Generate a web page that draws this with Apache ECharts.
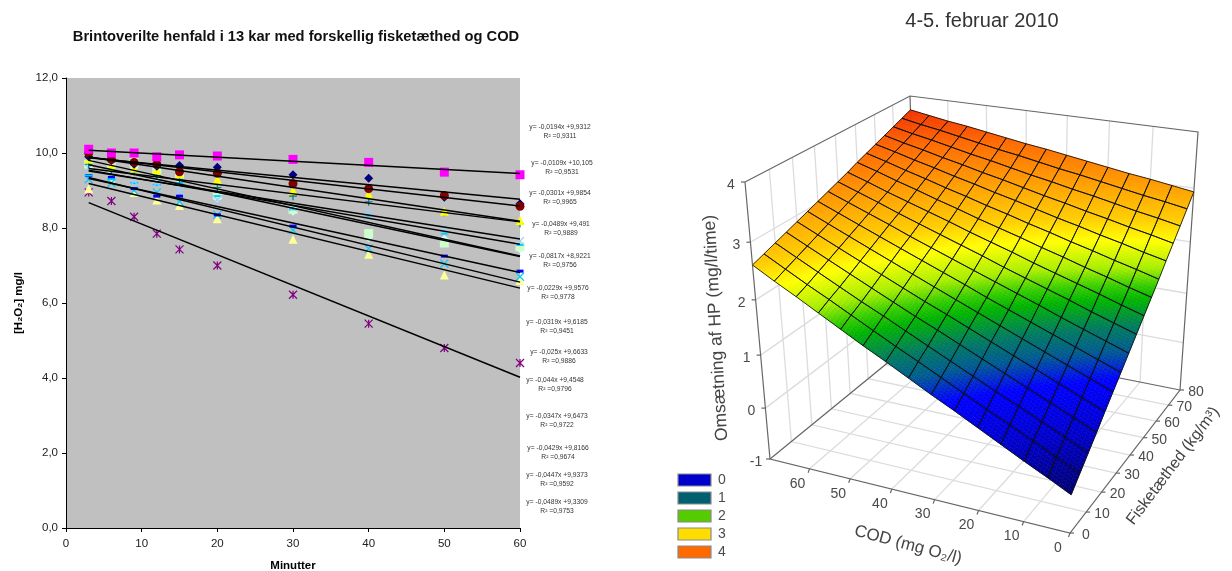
<!DOCTYPE html>
<html><head><meta charset="utf-8">
<style>html,body{margin:0;padding:0;background:#fff}#c{width:1232px;height:571px}</style>
<script src="https://cdn.jsdelivr.net/npm/echarts@6/dist/echarts.min.js"></script>
</head><body><div id="c"></div>
<script>
// ---------- left chart data ----------
const minutes = [3,6,9,12,15,20,30,40,50,60];
const karMagenta   = [10.1,10.0,10.0,9.9,9.95,9.92,9.83,9.75,9.49,9.42];
const karNavy      = [9.9,9.8,9.7,9.65,9.67,9.62,9.42,9.33,8.82,8.65];
const karMaroon    = [10.0,9.83,9.75,9.7,9.5,9.46,9.18,9.05,8.87,8.58];
const karYellow    = [9.85,9.65,9.6,9.55,9.45,9.3,9.0,8.9,8.45,8.2];
const karTeal      = [9.7,9.55,9.5,9.4,9.3,9.08,8.85,8.7,8.42,8.12];
const karLightBlue = [9.6,9.5,9.25,9.2,9.0,8.75,8.55,8.4,7.95,7.65];
const karCyanDash  = [9.4,9.3,9.2,9.15,9.2,8.85,8.5,8.33,7.85,7.55];
const karLightGreen= [9.7,9.6,9.75,9.55,9.4,8.88,8.5,7.85,7.6,7.5];
const karLightCyan = [9.75,9.55,9.6,9.35,9.2,8.8,8.45,7.75,7.7,7.45];
const karBlueDash  = [9.4,9.35,9.05,8.85,8.85,8.35,8.05,7.8,7.25,6.85];
const karCyanX     = [9.3,9.2,9.0,8.95,8.7,8.35,7.95,7.45,7.05,6.7];
const karPale      = [9.05,9.3,8.95,8.75,8.6,8.25,7.7,7.3,6.75,6.6];
const karPurple    = [8.95,8.72,8.3,7.85,7.43,7.0,6.22,5.45,4.8,4.4];
// trend lines as printed on the chart
const slopes     = [-0.0194,-0.0109,-0.0301,-0.0489,-0.0817,-0.0229,-0.0319,-0.025,-0.044,-0.0347,-0.0429,-0.0447,-0.0489];
const intercepts = [9.9312,10.105,9.9854,9.491,8.9221,9.9576,9.6185,9.6633,9.4548,9.6473,9.8166,9.9373,9.3309];
const rSquared   = ['0,9311','0,9531','0,9965','0,9889','0,9756','0,9778','0,9451','0,9886','0,9796','0,9722','0,9674','0,9592','0,9753'];
// ---------- right chart data ----------
const codTicks  = [0,10,20,30,40,50,60];
const fishTicks = [0,10,20,30,40,50,60,70,80];
const zTicks    = [-1,0,1,2,3,4];
const legendLevels = [0,1,2,3,4];
const surfaceCod  = [0,5,10,15,20,25,30,35,40,45,50,55,60,65,70];
const surfaceFish = [0,5,10,15,20,25,30,35,40,45,50,55,60,65,70,75,80];
const surfaceRate = [
[-0.29,-0.08,0.12,0.33,0.54,0.75,0.95,1.16,1.37,1.57,1.78,1.99,2.20,2.40,2.61],
[-0.09,0.11,0.31,0.51,0.70,0.90,1.10,1.30,1.49,1.69,1.89,2.09,2.28,2.48,2.68],
[0.11,0.30,0.49,0.68,0.86,1.05,1.24,1.43,1.62,1.81,1.99,2.18,2.37,2.56,2.75],
[0.31,0.49,0.67,0.85,1.03,1.21,1.39,1.57,1.74,1.92,2.10,2.28,2.46,2.64,2.82],
[0.52,0.69,0.86,1.03,1.20,1.37,1.54,1.71,1.87,2.04,2.21,2.38,2.55,2.72,2.89],
[0.72,0.88,1.04,1.20,1.36,1.52,1.68,1.84,2.00,2.16,2.32,2.48,2.64,2.80,2.96],
[0.92,1.07,1.22,1.37,1.52,1.67,1.82,1.98,2.13,2.28,2.43,2.58,2.73,2.88,3.03],
[1.12,1.26,1.40,1.54,1.69,1.83,1.97,2.11,2.25,2.39,2.53,2.68,2.82,2.96,3.10],
[1.32,1.45,1.58,1.72,1.85,1.98,2.11,2.25,2.38,2.51,2.64,2.77,2.91,3.04,3.17],
[1.52,1.64,1.77,1.89,2.01,2.13,2.26,2.38,2.50,2.63,2.75,2.87,2.99,3.12,3.24],
[1.72,1.83,1.95,2.06,2.18,2.29,2.41,2.52,2.63,2.75,2.86,2.98,3.09,3.21,3.32],
[1.92,2.03,2.13,2.24,2.34,2.45,2.55,2.66,2.76,2.87,2.97,3.08,3.18,3.29,3.39],
[2.13,2.22,2.32,2.41,2.51,2.60,2.70,2.80,2.89,2.99,3.08,3.18,3.27,3.37,3.46],
[2.33,2.42,2.50,2.59,2.67,2.76,2.84,2.93,3.02,3.10,3.19,3.27,3.36,3.44,3.53],
[2.53,2.61,2.68,2.76,2.84,2.91,2.99,3.06,3.14,3.22,3.29,3.37,3.45,3.52,3.60],
[2.73,2.80,2.86,2.93,3.00,3.07,3.13,3.20,3.27,3.33,3.40,3.47,3.54,3.60,3.67],
[2.93,2.99,3.05,3.10,3.16,3.22,3.28,3.34,3.39,3.45,3.51,3.57,3.62,3.68,3.74]
];

// ---------- layout and styles (not data) ----------
const FONT = '"Liberation Sans", Arial, sans-serif';
const eqCenterX = [560,562,560,561,560,558,557,559,555,557,558,557,557];
const eqY = [127,163,193,224,256,288,322,352,380,416,448,475,502];
const dec = v=>String(v).replace('.',',');

const plus='path://M0 5H10M5 0V10', cross='path://M0 0L10 10M10 0L0 10', star='path://M0 0L10 10M10 0L0 10M5 0V10';
const markerSeries = [
 [karPurple,star,8,'#800080',true],[karPale,'triangle',9,'#FFFF99'],[karCyanX,cross,8,'#00CCFF',true],
 [karBlueDash,'rect',[7,3],'#0000FF'],[karLightCyan,'diamond',9,'#CCFFFF'],[karLightGreen,'rect',9,'#CCFFCC'],
 [karCyanDash,'rect',[8,2],'#00CCFF'],[karLightBlue,cross,8,'#99CCFF',true],[karTeal,plus,8,'#008080',true],
 [karYellow,'triangle',9,'#FFFF00'],[karNavy,'diamond',9,'#000080'],[karMaroon,'circle',9,'#800000'],[karMagenta,'rect',9,'#FF00FF']
].map(([vals,symbol,size,color,stroked],i)=>({
  type:'scatter',xAxisIndex:0,yAxisIndex:0,z:2+i*0.01,symbol,symbolSize:size,silent:true,
  itemStyle: stroked?{color:'rgba(0,0,0,0)',borderColor:color,borderWidth:1.2,opacity:1}:{color,opacity:1},
  data:vals.map((v,j)=>[minutes[j],v])
}));
const trendSeries = slopes.map((m,i)=>({
  type:'line',xAxisIndex:0,yAxisIndex:0,z:5,symbol:'none',silent:true,
  lineStyle:{color:'#000',width:1.5},
  data:[3,60].map(x=>[x,m*x+intercepts[i]])
}));
const eqGraphics = [];
slopes.forEach((m,i)=>{
  eqGraphics.push({type:'text',x:eqCenterX[i],y:eqY[i],silent:true,style:{text:'y= '+dec(m)+'x +'+dec(intercepts[i]),font:'6.7px '+FONT,fill:'#333',textAlign:'center',verticalAlign:'middle'}});
  eqGraphics.push({type:'text',x:eqCenterX[i],y:eqY[i]+9,silent:true,style:{text:'R² ='+rSquared[i],font:'6.7px '+FONT,fill:'#333',textAlign:'center',verticalAlign:'middle'}});
});

// ---------- 3D projection of the right panel ----------
function quadMap(q){
  const [[x0,y0],[x1,y1],[x2,y2],[x3,y3]]=q;
  const sx=x0-x1+x2-x3,sy=y0-y1+y2-y3,dx1=x1-x2,dx2=x3-x2,dy1=y1-y2,dy2=y3-y2;
  const den=dx1*dy2-dx2*dy1,g=(sx*dy2-dx2*sy)/den,h=(dx1*sy-sx*dy1)/den;
  const a=x1-x0+g*x1,b=x3-x0+h*x3,c=x0,d=y1-y0+g*y1,e=y3-y0+h*y3,f=y0;
  return (u,v)=>{const w=g*u+h*v+1;return [(a*u+b*v+c)/w,(d*u+e*v+f)/w];};
}
const COD_MAX=70,FISH_MAX=80,Z_MIN=-1,Z_MAX=4,PERSP=0.9;
const floorMap=quadMap([[1070,533],[770,459],[918,338],[1180,390]]);
const roofMap =quadMap([[1079,238],[745,182],[910,96],[1198,132]]);
function proj(cod,fish,rate){
  const u=cod/COD_MAX,v=fish/FISH_MAX,t=(rate-Z_MIN)/(Z_MAX-Z_MIN);
  const s=PERSP*t/((1-t)+PERSP*t);
  const a=floorMap(u,v),b=roofMap(u,v);
  return [a[0]+(b[0]-a[0])*s,a[1]+(b[1]-a[1])*s];
}
const stops=[[-0.3,'#00006a'],[0.3,'#0000c8'],[0.85,'#0000ff'],[1.15,'#005a90'],[1.4,'#007a60'],[1.7,'#00b400'],[1.85,'#33cc00'],[2.05,'#a8ee00'],[2.35,'#ffff00'],[2.6,'#ffcc00'],[2.9,'#ffa800'],[3.4,'#ff6a00'],[3.8,'#f02800']];
const hex=h=>[1,3,5].map(i=>parseInt(h.substr(i,2),16));
function rateColor(z){
  if(z<=stops[0][0])return stops[0][1];
  for(let i=1;i<stops.length;i++){ if(z<=stops[i][0]){
    const t=(z-stops[i-1][0])/(stops[i][0]-stops[i-1][0]),a=hex(stops[i-1][1]),b=hex(stops[i][1]);
    return 'rgb('+a.map((x,k)=>Math.round(x+(b[k]-x)*t)).join(',')+')';}}
  return stops[stops.length-1][1];
}
const RX={xAxisIndex:1,yAxisIndex:1};
function pathSeries(data,z,color,width,fn){
  return {type:'custom',...RX,z,silent:true,data:data.map(v=>[v,0]),
    renderItem:(p,api)=>({type:'polyline',shape:{points:fn(api.value(0)).map(q=>api.coord(q))},
      style:{fill:'none',stroke:color,lineWidth:width}})};
}
const GRID='#dcdcdc',FRAME='#666',TXT='#4a4a4a';
const wallSeries=[
 pathSeries(codTicks.slice(1),3,GRID,1.3,c=>[proj(c,0,Z_MIN),proj(c,FISH_MAX,Z_MIN),proj(c,FISH_MAX,Z_MAX)]),
 pathSeries(fishTicks.slice(1,-1),3,GRID,1.3,f=>[proj(0,f,Z_MIN),proj(COD_MAX,f,Z_MIN),proj(COD_MAX,f,Z_MAX)]),
 pathSeries(zTicks.slice(1,-1),3,GRID,1.3,r=>[proj(COD_MAX,0,r),proj(COD_MAX,FISH_MAX,r),proj(0,FISH_MAX,r)]),
 pathSeries([0],4,FRAME,1.2,()=>[proj(COD_MAX,0,Z_MAX),proj(COD_MAX,FISH_MAX,Z_MAX),proj(0,FISH_MAX,Z_MAX),proj(0,FISH_MAX,Z_MIN),proj(0,0,Z_MIN),proj(COD_MAX,0,Z_MIN),proj(COD_MAX,0,Z_MAX)]),
 pathSeries([0],4,FRAME,1.2,()=>[proj(COD_MAX,0,Z_MIN),proj(COD_MAX,FISH_MAX,Z_MIN),proj(0,FISH_MAX,Z_MIN)]),
 pathSeries([0],4,FRAME,1.2,()=>[proj(COD_MAX,FISH_MAX,Z_MIN),proj(COD_MAX,FISH_MAX,Z_MAX)]),
 pathSeries(codTicks,4,FRAME,1.2,c=>{const a=proj(c,0,Z_MIN);return [a,[a[0]-1.5,a[1]+4]];}),
 pathSeries(fishTicks,4,FRAME,1.2,f=>{const a=proj(0,f,Z_MIN);return [a,[a[0]+4,a[1]]];}),
 pathSeries(zTicks,4,FRAME,1.2,r=>{const a=proj(COD_MAX,0,r);return [a,[a[0]-4,a[1]]];})
];
function textSeries(data,z,size,fn){
  return {type:'custom',...RX,z,silent:true,data:data.map(v=>[v,0]),
    renderItem:(p,api)=>{const v=api.value(0),q=api.coord(fn(v));
      return {type:'text',x:q[0],y:q[1],style:{text:String(v),font:size+'px '+FONT,fill:TXT,textAlign:'center',verticalAlign:'middle'}};}};
}
const labelSeries=[
 textSeries(codTicks,6,14,c=>{const a=proj(c,0,Z_MIN);return [a[0]-12,a[1]+15];}),
 textSeries(fishTicks,6,14,f=>{const a=proj(0,f,Z_MIN);return [a[0]+16,a[1]+2];}),
 textSeries(zTicks,6,14,r=>{const a=proj(COD_MAX,0,r);return [a[0]-14,a[1]+3];})
];
const axisTitles=['COD (mg O₂/l)','Fisketæthed (kg/m³)','Omsætning af HP (mg/l/time)'];
const titleAnchors=[[908,545,-15,17],[1173,466,53,16],[716,328,93.2,17.5]];
const axisTitleSeries={type:'custom',...RX,z:6,silent:true,data:axisTitles.map((t,i)=>[i,0]),
  renderItem:(p,api)=>{const i=api.value(0),a=titleAnchors[i],q=api.coord([a[0],a[1]]);
    return {type:'text',x:q[0],y:q[1],rotation:a[2]*Math.PI/180,style:{text:axisTitles[i],font:a[3]+'px '+FONT,fill:'#444',textAlign:'center',verticalAlign:'middle'}};}};
// surface cells
const cellData=[];
for(let r=0;r<surfaceFish.length-1;r++)for(let c=0;c<surfaceCod.length-1;c++)cellData.push([c,r]);
const SUB=6;
function cellGeom(api){
  const c=api.value(0),r=api.value(1),c0=surfaceCod[c],c1=surfaceCod[c+1],f0=surfaceFish[r],f1=surfaceFish[r+1];
  const z00=surfaceRate[r][c],z10=surfaceRate[r][c+1],z01=surfaceRate[r+1][c],z11=surfaceRate[r+1][c+1];
  return (a,b)=>{const z=z00*(1-a)*(1-b)+z10*a*(1-b)+z01*(1-a)*b+z11*a*b;
    return {z,q:api.coord(proj(c0+(c1-c0)*a,f0+(f1-f0)*b,z))};};
}
const surfaceSeries={type:'custom',...RX,z:8,silent:true,data:cellData,
  renderItem:(p,api)=>{
    const at=cellGeom(api),children=[];
    for(let i=0;i<SUB;i++)for(let j=0;j<SUB;j++){
      const a=i/SUB,b=j/SUB,d=1/SUB,P=[at(a,b),at(a+d,b),at(a+d,b+d),at(a,b+d)];
      const col=rateColor(at(a+d/2,b+d/2).z);
      children.push({type:'polygon',shape:{points:P.map(o=>o.q)},style:{fill:col,stroke:col,lineWidth:0.6}});
    }
    return {type:'group',children};
  }};
const meshSeries={type:'custom',...RX,z:9,silent:true,data:cellData,
  renderItem:(p,api)=>{const at=cellGeom(api);
    return {type:'polygon',shape:{points:[at(0,0),at(1,0),at(1,1),at(0,1)].map(o=>o.q)},style:{fill:'none',stroke:'rgba(15,15,10,0.85)',lineWidth:1}};}};
// colour key
const legendColors=['#0000cc','#006070','#55cc00','#ffdd00','#ff6a00'];
const legendSeries={type:'custom',...RX,z:6,silent:true,data:legendLevels.map(v=>[v,0]),
  renderItem:(p,api)=>{const v=api.value(0),t=api.coord([678,474+v*18]),b=api.coord([711,486+v*18]),l=api.coord([722,480+v*18]);
    return {type:'group',children:[
      {type:'rect',shape:{x:t[0],y:t[1],width:b[0]-t[0],height:b[1]-t[1]},style:{fill:legendColors[v],stroke:'#8a8a8a',lineWidth:1.2}},
      {type:'text',x:l[0],y:l[1],style:{text:String(v),font:'14px '+FONT,fill:TXT,textAlign:'center',verticalAlign:'middle'}}]};}};

const chart=echarts.init(document.getElementById('c'),null,{renderer:'canvas'});
chart.setOption({
  animation:false,backgroundColor:'#fff',tooltip:{show:false},
  textStyle:{fontFamily:FONT},
  title:[
    {text:'Brintoverilte henfald i 13 kar med forskellig fisketæthed og COD',left:291,top:24,textAlign:'center',
     textStyle:{fontFamily:FONT,fontSize:14.7,fontWeight:'bold',color:'#111'}},
    {text:'4-5. februar 2010',left:977,top:6,textAlign:'center',textStyle:{fontFamily:FONT,fontSize:20,fontWeight:'normal',color:'#333'}}
  ],
  grid:[
    {left:66,top:78,width:454,height:450,show:true,backgroundColor:'#C0C0C0',borderWidth:0,outerBoundsMode:'none'},
    {left:640,top:0,width:592,height:571,show:false,outerBoundsMode:'none'}
  ],
  xAxis:[
    {type:'value',gridIndex:0,min:0,max:60,interval:10,splitLine:{show:false},
     axisLine:{show:true,onZero:false,lineStyle:{color:'#000'}},axisTick:{show:true,length:4,lineStyle:{color:'#000'}},
     axisLabel:{fontFamily:FONT,fontSize:11.5,color:'#222',margin:10},
     name:'Minutter',nameLocation:'middle',nameGap:32,nameTextStyle:{fontFamily:FONT,fontSize:11.5,fontWeight:'bold',color:'#000'}},
    {type:'value',gridIndex:1,min:640,max:1232,show:false}
  ],
  yAxis:[
    {type:'value',gridIndex:0,min:0,max:12,interval:2,splitLine:{show:false},
     axisLine:{show:true,onZero:false,lineStyle:{color:'#000'}},axisTick:{show:true,length:4,lineStyle:{color:'#000'}},
     axisLabel:{fontFamily:FONT,fontSize:11.5,color:'#222',margin:8,formatter:v=>v.toFixed(1).replace('.',',')},
     name:'[H₂O₂] mg/l',nameLocation:'middle',nameGap:41,nameTextStyle:{fontFamily:FONT,fontSize:11.5,fontWeight:'bold',color:'#000'}},
    {type:'value',gridIndex:1,min:0,max:571,inverse:true,show:false}
  ],
  graphic:{elements:eqGraphics},
  series:[...markerSeries,...trendSeries,...wallSeries,surfaceSeries,meshSeries,...labelSeries,axisTitleSeries,legendSeries]
});
</script></body></html>
